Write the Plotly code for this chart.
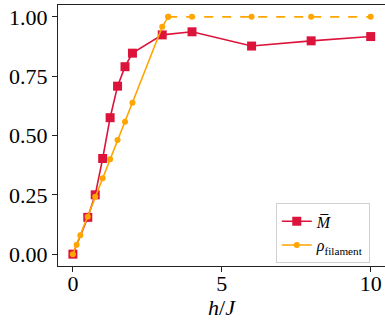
import plotly.graph_objects as go

h_M = [0, 0.5, 0.75, 1.0, 1.25, 1.5, 1.75, 2.0, 3.0, 4.0, 6.0, 8.0, 10.0]
M_bar = [0.0, 0.155, 0.25, 0.403, 0.575, 0.708, 0.79, 0.847, 0.924, 0.937, 0.877, 0.899, 0.917]

h_rho = [0, 0.125, 0.25, 0.5, 0.75, 1.0, 1.25, 1.5, 1.75, 2.0, 3.0, 3.2]
rho = [0.0, 0.04, 0.08, 0.158, 0.242, 0.32, 0.40, 0.481, 0.558, 0.638, 0.958, 1.0]

h_rho_sat = [3.2, 4.0, 6.0, 8.0, 10.0]
rho_sat = [1.0, 1.0, 1.0, 1.0, 1.0]

x_ticks = [0, 5, 10]
y_ticks = [0.0, 0.25, 0.5, 0.75, 1.0]
y_tick_labels = ["0.00", "0.25", "0.50", "0.75", "1.00"]

red = "#DC143C"
orange = "#FFA500"
SERIF = "Liberation Serif"

fig = go.Figure()
fig.add_trace(go.Scatter(x=h_M, y=M_bar, mode="lines+markers",
                         name="<i>M\u0305</i>",
                         line=dict(color=red, width=1.6),
                         marker=dict(symbol="square", size=9, color=red)))
fig.add_trace(go.Scatter(x=h_rho_sat, y=rho_sat, mode="lines+markers",
                         showlegend=False,
                         line=dict(color=orange, width=1.6, dash="dash"),
                         marker=dict(symbol="circle", size=6, color=orange)))
fig.add_trace(go.Scatter(x=h_rho, y=rho, mode="lines+markers",
                         name="<i>ρ</i><sub>filament</sub>",
                         line=dict(color=orange, width=1.6),
                         marker=dict(symbol="circle", size=6, color=orange)))

axis_common = dict(showline=True, linecolor="#222222", linewidth=1.3, mirror=True,
                   ticks="outside", ticklen=5, tickwidth=1.2, tickcolor="#222222",
                   showgrid=False, zeroline=False,
                   tickfont=dict(family=SERIF, size=22, color="black"))

fig.update_layout(
    width=385, height=320,
    margin=dict(l=58, r=0, t=5, b=54),
    plot_bgcolor="white", paper_bgcolor="white",
    font=dict(family=SERIF, color="black"),
    xaxis=dict(range=[-0.5, 10.48], tickvals=x_ticks, ticktext=[str(v) for v in x_ticks],
               ticklabelstandoff=-8,
               **axis_common),
    yaxis=dict(range=[-0.05, 1.05], tickvals=y_ticks, ticktext=y_tick_labels,
               **axis_common),
    legend=dict(x=0.666, y=0.24, xanchor="left", yanchor="top",
                bgcolor="rgba(255,255,255,0.9)", bordercolor="#d0d0d0", borderwidth=1,
                font=dict(family=SERIF, size=16, color="black"),
                tracegroupgap=0, itemwidth=30),
    showlegend=True,
    annotations=[dict(text="<i>h</i>/<i>J</i>", xref="paper", yref="paper",
                      x=0.5, y=-0.158, xanchor="center", yanchor="middle",
                      showarrow=False, font=dict(family=SERIF, size=22, color="black"))],
)

fig.write_html("out.html")
